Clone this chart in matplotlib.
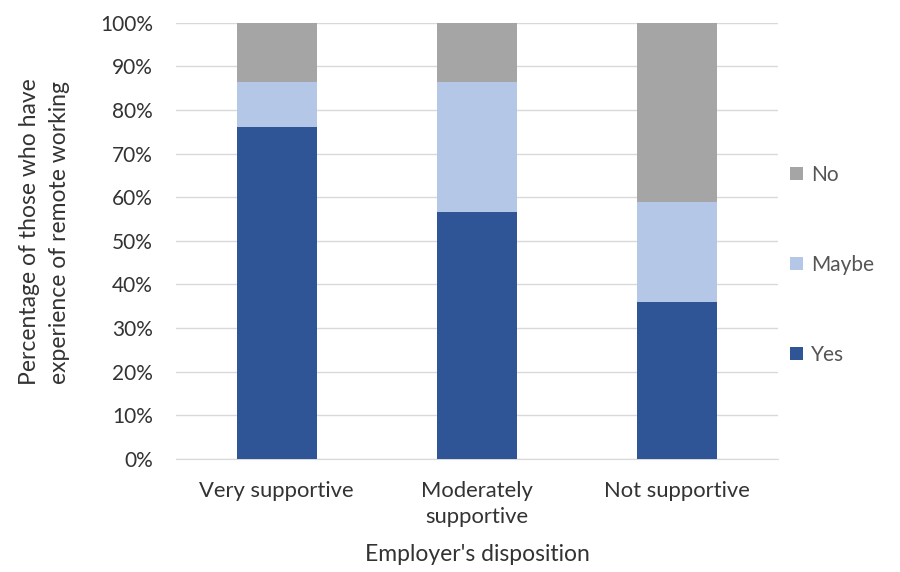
import matplotlib.pyplot as plt
import numpy as np

plt.rcParams['font.family'] = ['Lato', 'DejaVu Sans']

# data (percent)
categories = ['Very supportive', 'Moderately\nsupportive', 'Not supportive']
yes = [76, 56.5, 36]
maybe = [10.5, 30, 23]
no = [13.5, 13.5, 41]

c_yes = '#2f5597'
c_maybe = '#b4c7e7'
c_no = '#a5a5a5'
txt = '#333333'

fig = plt.figure(figsize=(9, 5.72), dpi=100)
ax = fig.add_axes([0.196, 0.198, 0.668, 0.762])

x = np.arange(len(categories))
w = 0.4
b1 = ax.bar(x, yes, w, color=c_yes, label='Yes', zorder=3)
b2 = ax.bar(x, maybe, w, bottom=yes, color=c_maybe, label='Maybe', zorder=3)
bottom2 = [a + b for a, b in zip(yes, maybe)]
b3 = ax.bar(x, no, w, bottom=bottom2, color=c_no, label='No', zorder=3)

ax.set_xlim(-0.5, 2.5)
ax.set_ylim(0, 100)
ax.set_yticks(np.arange(0, 101, 10))
ax.set_yticklabels([f'{v}%' for v in range(0, 101, 10)], fontsize=15, color=txt)
ax.set_xticks(x)
ax.set_xticklabels(categories, fontsize=15.8, color=txt, linespacing=1.4)
ax.tick_params(axis='y', length=0, pad=17)
ax.tick_params(axis='x', length=0, pad=16)
ax.grid(axis='y', color='#d9d9d9', linewidth=1, zorder=0)
for s in ['top', 'right', 'left']:
    ax.spines[s].set_visible(False)
ax.spines['bottom'].set_color('#d9d9d9')

ax.set_xlabel("Employer's disposition", fontsize=16.5, color=txt)
ax.xaxis.set_label_coords(0.5, -0.195)
ax.set_ylabel('Percentage of those who have\nexperience of remote working', fontsize=16.5,
              color=txt, linespacing=1.5)
ax.yaxis.set_label_coords(-0.177, 0.52)

leg = ax.legend(handles=[b3, b2, b1], loc='center left', bbox_to_anchor=(0.99, 0.445),
                frameon=False, fontsize=15, labelspacing=3.35, handlelength=0.6,
                handleheight=0.6, handletextpad=0.4)
for t in leg.get_texts():
    t.set_color('#555555')

plt.savefig('out.png', dpi=100)
